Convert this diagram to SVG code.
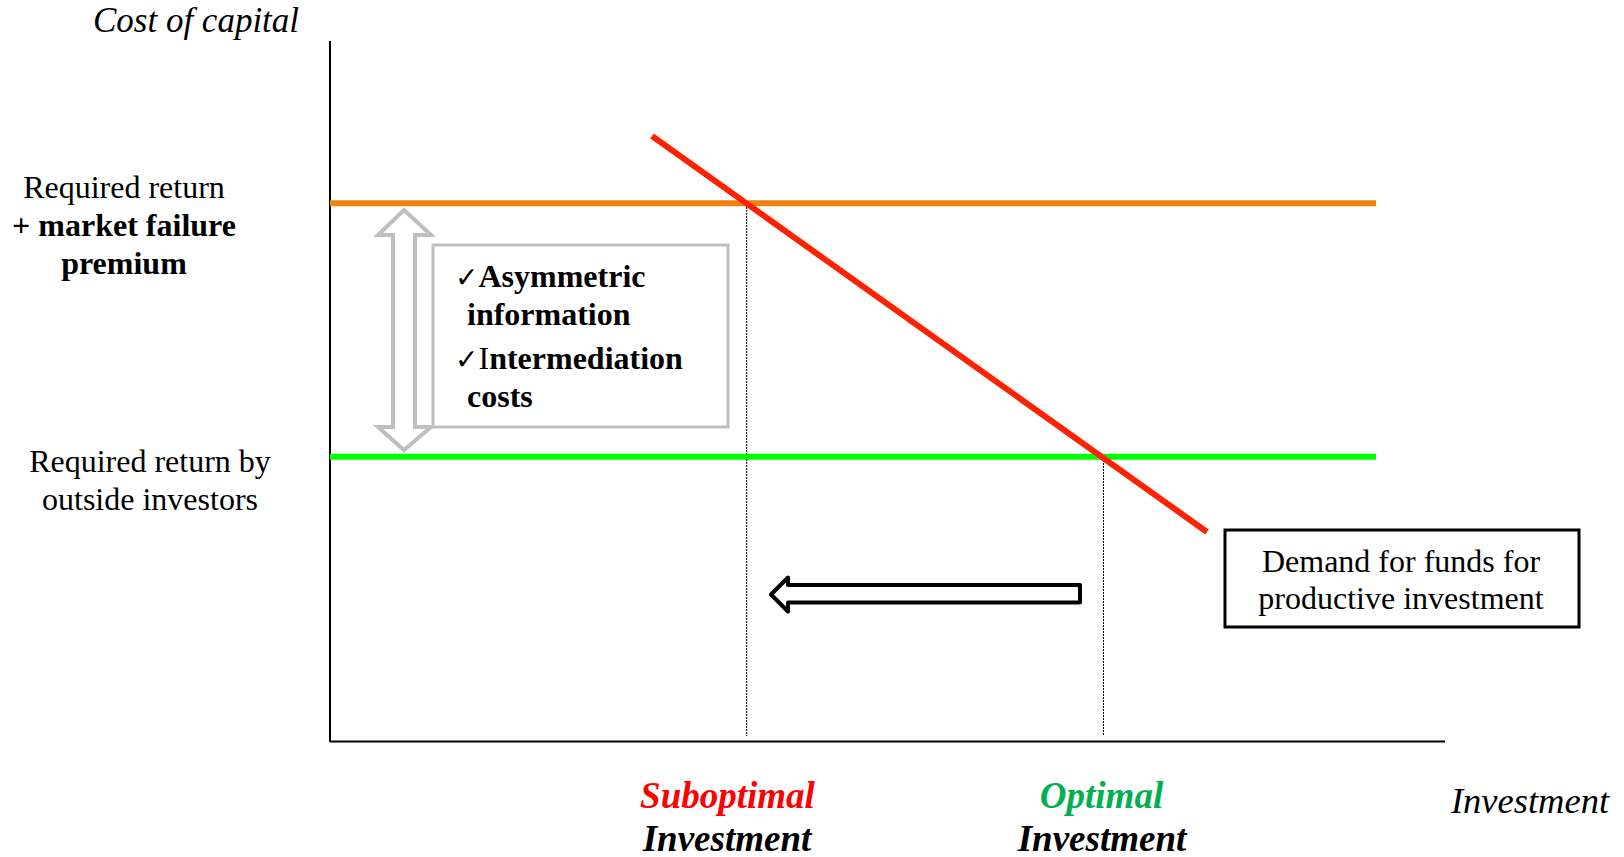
<svg xmlns="http://www.w3.org/2000/svg" width="1624" height="857" viewBox="0 0 1624 857">
<style>
.t{font-family:"Liberation Serif","Times New Roman",serif;fill:#000}
.r{font-size:32px}
.b{font-size:32px;font-weight:bold}
.bi{font-size:37px;font-weight:bold;font-style:italic}
.it{font-size:35px;font-style:italic}
.ck{font-family:"DejaVu Sans",sans-serif;font-weight:bold;font-size:28px}
.dot{stroke:#000;stroke-width:1;stroke-dasharray:2 1;fill:none}
</style>
<rect width="1624" height="857" fill="#fff"/>
<g id="axes">
<line x1="330" y1="41" x2="330" y2="742" stroke="#000" stroke-width="2"/>
<line x1="330" y1="741.5" x2="1445" y2="741.5" stroke="#000" stroke-width="2"/>
<text class="t it" x="196" y="32" text-anchor="middle">Cost of capital</text>
<text class="t" x="1530" y="813" text-anchor="middle" font-size="36.5" font-style="italic">Investment</text>
</g>
<g id="connectors">
<line class="dot" x1="746.7" y1="204" x2="746.7" y2="736"/>
<line class="dot" x1="1103.5" y1="457" x2="1103.5" y2="736"/>
<line x1="330" y1="203.3" x2="1376" y2="203.3" stroke="#F0820F" stroke-width="6"/>
<line x1="330" y1="456.7" x2="1376" y2="456.7" stroke="#00FF00" stroke-width="6"/>
<line x1="652" y1="136" x2="1207" y2="532" stroke="#FF2200" stroke-width="6"/>
<path d="M404,210 L431,235 L415,235 L415,427 L431,427 L404,450 L378,427 L393,427 L393,235 L378,235 Z" fill="#fff" stroke="#BFBFBF" stroke-width="4" stroke-linejoin="miter"/>
<path d="M771,594.5 L788,577.5 L788,585 L1080,585 L1080,602.5 L788,602.5 L788,611.5 Z" fill="#fff" stroke="#000" stroke-width="4" stroke-linejoin="round"/>
</g>
<g id="label-premium">
<text class="t r" x="124" y="198" text-anchor="middle">Required return</text>
<text class="t b" x="124" y="236" text-anchor="middle">+ market failure</text>
<text class="t b" x="124" y="274" text-anchor="middle">premium</text>
</g>
<g id="label-outside">
<text class="t r" x="150" y="472" text-anchor="middle">Required return by</text>
<text class="t r" x="150" y="510" text-anchor="middle">outside investors</text>
</g>
<g id="reasons-box">
<rect x="433" y="245" width="295" height="182" fill="#fff" stroke="#BFBFBF" stroke-width="3"/>
<text class="t b" x="455" y="287"><tspan class="ck">✓</tspan>Asymmetric</text>
<text class="t b" x="467" y="325">information</text>
<text class="t b" x="455" y="369"><tspan class="ck">✓</tspan><tspan font-weight="normal">I</tspan>ntermediation</text>
<text class="t b" x="467" y="407">costs</text>
</g>
<g id="demand-box">
<rect x="1225" y="530" width="354" height="97" fill="#fff" stroke="#000" stroke-width="3"/>
<text class="t r" x="1401" y="572" text-anchor="middle">Demand for funds for</text>
<text class="t r" x="1401" y="609" text-anchor="middle">productive investment</text>
</g>
<g id="suboptimal">
<text class="t bi" x="727.5" y="808" text-anchor="middle" style="fill:#FF0000">Suboptimal</text>
<text class="t bi" x="727" y="851" text-anchor="middle">Investment</text>
</g>
<g id="optimal">
<text class="t bi" x="1101.5" y="808" text-anchor="middle" style="fill:#00B050">Optimal</text>
<text class="t bi" x="1102" y="851" text-anchor="middle">Investment</text>
</g>
</svg>
